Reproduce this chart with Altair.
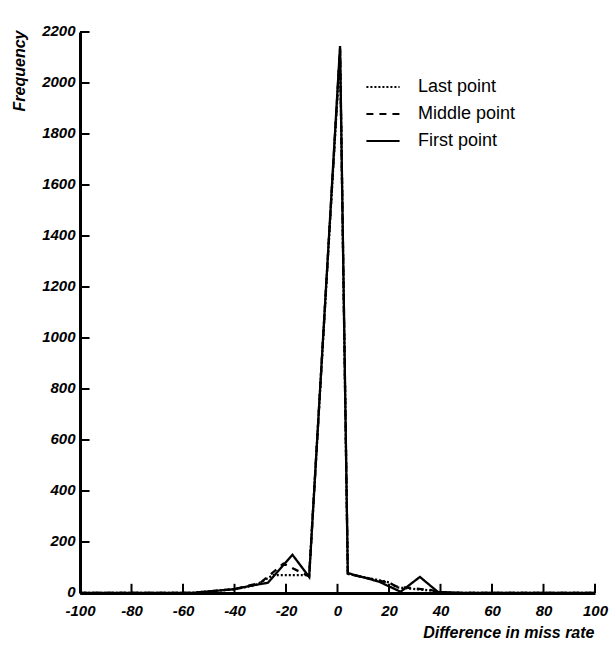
import altair as alt
import pandas as pd

# ---- data ----
series_names = ["Last point", "Middle point", "First point"]

first_x = [-100, -57, -40, -33, -27, -17.5, -11, 1, 4, 16, 24.5, 32, 39, 50, 100]
first_y = [0, 0, 15, 30, 40, 150, 63, 2145, 78, 45, 5, 63, 4, 0, 0]

middle_x = [-100, -57, -40, -30, -21, -11, 1, 4, 20, 23, 36, 40, 50, 100]
middle_y = [0, 0, 15, 40, 115, 65, 2135, 75, 40, 25, 12, 2, 0, 0]

last_x = [-100, -57, -40, -32, -25, -11, 1, 4, 20, 23, 36, 40, 50, 100]
last_y = [0, 0, 15, 30, 70, 70, 2125, 75, 42, 22, 10, 2, 0, 0]

x_ticks = [-100, -80, -60, -40, -20, 0, 20, 40, 60, 80, 100]
y_ticks = [0, 200, 400, 600, 800, 1000, 1200, 1400, 1600, 1800, 2000, 2200]

rows = []
for name, xs, ys in [("First point", first_x, first_y),
                     ("Middle point", middle_x, middle_y),
                     ("Last point", last_x, last_y)]:
    for i, (xv, yv) in enumerate(zip(xs, ys)):
        rows.append({"series": name, "x": xv, "y": yv, "order": i})
df = pd.DataFrame(rows)

# inward tick marks (in data units, through the scales)
xt = pd.DataFrame({"x": x_ticks[1:], "y": [0] * (len(x_ticks) - 1), "y1": [36] * (len(x_ticks) - 1)})
yt = pd.DataFrame({"y": y_ticks[1:], "x": [-100] * (len(y_ticks) - 1), "x1": [-96.3] * (len(y_ticks) - 1)})

FONT = "Liberation Sans"
x_scale = alt.Scale(domain=[-100, 100], nice=False, zero=False)
y_scale = alt.Scale(domain=[0, 2200], nice=False)

x_axis = alt.Axis(
    values=x_ticks, tickSize=0, labelPadding=10, domainWidth=3, domainColor="black",
    labelExpr="'' + datum.value",
    labelFont=FONT, labelFontSize=15, labelFontWeight="bold", labelFontStyle="italic",
    labelColor="black", labelFlush=False, labelBound=False, grid=False,
    title="Difference in miss rate", titleFont=FONT, titleFontSize=16,
    titleFontWeight="bold", titleFontStyle="italic", titleColor="black",
    titleAnchor="end", titleAlign="right", titleBaseline="alphabetic",
    titleX=514, titleY=44)
y_axis = alt.Axis(
    values=y_ticks, tickSize=0, labelPadding=5, domainWidth=3, domainColor="black",
    labelExpr="'' + datum.value", labelOffset=-2,
    labelFont=FONT, labelFontSize=15, labelFontWeight="bold", labelFontStyle="italic",
    labelColor="black", labelFlush=False, labelBound=False, grid=False,
    title="Frequency", titleFont=FONT, titleFontSize=16,
    titleFontWeight="bold", titleFontStyle="italic", titleColor="black",
    titleAngle=270, titleAlign="right", titleBaseline="middle",
    titleX=-61, titleY=-2)

lines = alt.Chart(df).mark_line(color="black", strokeWidth=2.3).encode(
    x=alt.X("x:Q", scale=x_scale, axis=x_axis),
    y=alt.Y("y:Q", scale=y_scale, axis=y_axis),
    strokeDash=alt.StrokeDash("series:N",
        scale=alt.Scale(domain=series_names, range=[[2, 2], [7, 6], [1, 0]]),
        legend=alt.Legend(title=None, orient="none", legendX=285, legendY=37,
                          symbolType="stroke", symbolSize=1100, symbolStrokeWidth=2,
                          symbolStrokeColor="black", labelFont=FONT, labelFontSize=18,
                          labelColor="black", labelOffset=17, rowPadding=-7, padding=0)),
    order="order:Q",
)

xticks_layer = alt.Chart(xt).mark_rule(color="black", strokeWidth=2).encode(
    x=alt.X("x:Q", scale=x_scale, axis=x_axis),
    y=alt.Y("y:Q", scale=y_scale, axis=y_axis),
    y2="y1:Q",
)
yticks_layer = alt.Chart(yt).mark_rule(color="black", strokeWidth=2).encode(
    y=alt.Y("y:Q", scale=y_scale, axis=y_axis),
    x=alt.X("x:Q", scale=x_scale, axis=x_axis),
    x2="x1:Q",
)

chart = alt.layer(lines, xticks_layer, yticks_layer).properties(
    width=515, height=561,
    autosize=alt.AutoSizeParams(type="none"),
    padding={"left": 80, "top": 32, "right": 14, "bottom": 52},
    background="white",
).configure_view(stroke=None)

chart.save("out.html", embed_options={"renderer": "svg", "actions": False})
